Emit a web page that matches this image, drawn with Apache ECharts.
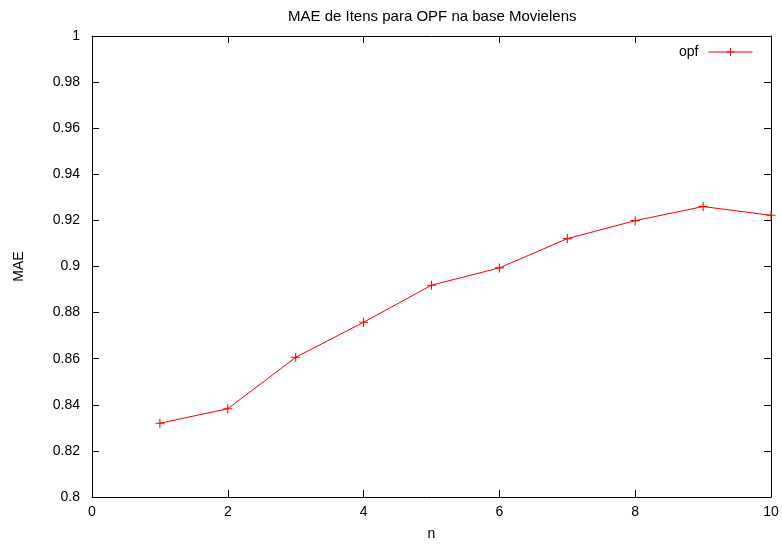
<!DOCTYPE html>
<html><head><meta charset="utf-8">
<script src="https://cdn.jsdelivr.net/npm/echarts@6/dist/echarts.min.js"></script>
<style>html,body{margin:0;padding:0;background:#fff}#c{width:782px;height:546px}</style>
</head><body><div id="c"></div>
<script>
const xValues = [1, 2, 3, 4, 5, 6, 7, 8, 9, 10];
const maeValues = [0.832, 0.8383, 0.8606, 0.8758, 0.8919, 0.8994, 0.9121, 0.9199, 0.926, 0.9222];
const seriesName = 'opf';
const titleText = 'MAE de Itens para OPF na base Movielens';

const font = 'Liberation Sans, Arial, sans-serif';
const cross = 'path://M0,4.4H10V5.6H0Z M4.4,0H5.6V10H4.4Z';
const axisLine = {show: true, onZero: false, lineStyle: {color: '#000', width: 1}};
const tick = {show: true, inside: true, length: 7, lineStyle: {color: '#000', width: 1}};

const chart = echarts.init(document.getElementById('c'), null, {renderer: 'canvas'});
chart.setOption({
  animation: false,
  backgroundColor: '#fff',
  title: {text: titleText, left: 283, top: 4,
    textStyle: {fontFamily: font, fontSize: 15, fontWeight: 'normal', color: '#000'}},
  legend: {
    data: [seriesName], right: 24, top: 40, align: 'right',
    itemWidth: 44, itemHeight: 10, itemGap: 8,
    lineStyle: {width: 1},
    textStyle: {fontFamily: font, fontSize: 14, color: '#000', padding: [0, 5, 0, 0]}
  },
  grid: {left: 92, right: 11, top: 36, bottom: 48},
  xAxis: [{
    type: 'value', min: 0, max: 10, interval: 2, position: 'bottom',
    name: 'n', nameLocation: 'middle', nameGap: 30,
    nameTextStyle: {fontFamily: font, fontSize: 14, color: '#000'},
    axisLine: axisLine, axisTick: tick, splitLine: {show: false},
    axisLabel: {fontFamily: font, fontSize: 14, color: '#000', margin: 8}
  }, {
    type: 'value', min: 0, max: 10, interval: 2, position: 'top',
    axisLine: axisLine, axisTick: tick, splitLine: {show: false},
    axisLabel: {show: false}
  }],
  yAxis: [{
    type: 'value', min: 0.8, max: 1, interval: 0.02, position: 'left',
    name: 'MAE', nameLocation: 'middle', nameGap: 66,
    nameTextStyle: {fontFamily: font, fontSize: 14, color: '#000'},
    axisLine: axisLine, axisTick: tick, splitLine: {show: false},
    axisLabel: {fontFamily: font, fontSize: 14, color: '#000', margin: 12,
      formatter: v => String(parseFloat(v.toFixed(2)))}
  }, {
    type: 'value', min: 0.8, max: 1, interval: 0.02, position: 'right',
    axisLine: axisLine, axisTick: tick, splitLine: {show: false},
    axisLabel: {show: false}
  }],
  series: [{
    name: seriesName, type: 'line',
    data: xValues.map((x, i) => [x, maeValues[i]]),
    symbol: cross, symbolSize: 9, showSymbol: true,
    lineStyle: {color: '#ff0000', width: 1},
    itemStyle: {color: '#ff0000'}
  }]
});
</script></body></html>
